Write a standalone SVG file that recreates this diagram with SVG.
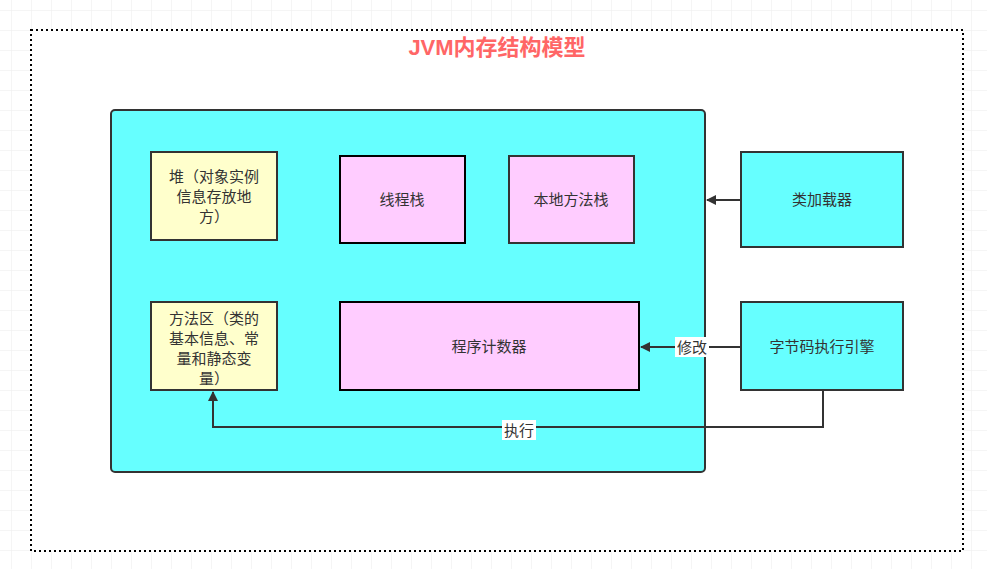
<svg xmlns="http://www.w3.org/2000/svg" width="987" height="569" viewBox="0 0 987 569">
<defs>
<pattern id="g" width="20" height="20" patternUnits="userSpaceOnUse" x="11" y="10"><path d="M20 0H0V20" fill="none" stroke="#ececec" stroke-width="1"/></pattern>
<marker id="a" markerWidth="10" markerHeight="10" refX="9" refY="5" orient="auto" markerUnits="userSpaceOnUse"><path d="M0 0L10 5L0 10Z" fill="#333"/></marker>
<style>
text{font-family:"Liberation Sans","Noto Sans CJK SC",sans-serif;font-size:15px;fill:#333;text-anchor:middle}
.n{stroke:#333;stroke-width:2}
.c{fill:none;stroke:#333;stroke-width:2}
</style>
</defs>
<rect width="987" height="569" fill="#fff"/>
<rect width="987" height="569" fill="url(#g)"/>
<rect x="31" y="30" width="932" height="521" fill="#fff" stroke="#000" stroke-width="2" stroke-dasharray="2,3"/>
<text x="497" y="55" style="font-size:22px;font-weight:bold;fill:#ff6666">JVM内存结构模型</text>
<g id="jvm"><rect class="n" x="111" y="110" width="594" height="362" rx="4" fill="#66ffff"/></g>
<g id="heap"><rect class="n" x="151" y="152" width="126" height="88" fill="#ffffcc"/><text x="214" y="182">堆（对象实例</text><text x="214" y="202">信息存放地</text><text x="214" y="222">方）</text></g>
<g id="method"><rect class="n" x="151" y="302" width="126" height="88" fill="#ffffcc"/><text x="214" y="324">方法区（类的</text><text x="214" y="344">基本信息、常</text><text x="214" y="364">量和静态变</text><text x="214" y="384">量）</text></g>
<g id="thread"><rect x="340" y="156" width="125" height="87" fill="#ffccff" stroke="#000" stroke-width="2"/><text x="402" y="205">线程栈</text></g>
<g id="native"><rect class="n" x="509" y="156" width="125" height="87" fill="#ffccff"/><text x="571" y="205">本地方法栈</text></g>
<g id="pc"><rect x="340" y="302" width="299" height="88" fill="#ffccff" stroke="#000" stroke-width="2"/><text x="489" y="352">程序计数器</text></g>
<g id="loader"><rect class="n" x="741" y="152" width="162" height="95" fill="#66ffff"/><text x="822" y="205">类加载器</text></g>
<g id="engine"><rect class="n" x="741" y="302" width="162" height="88" fill="#66ffff"/><text x="822" y="352">字节码执行引擎</text></g>
<g id="connectors">
<path class="c" d="M741 200H707" marker-end="url(#a)"/>
<path class="c" d="M741 347H641" marker-end="url(#a)"/>
<rect x="675" y="337" width="34" height="20" fill="#fff"/><text x="692" y="353">修改</text>
<path class="c" d="M823 390V427H213V392" marker-end="url(#a)"/>
<rect x="502" y="420" width="34" height="20" fill="#fff"/><text x="519" y="436">执行</text>
</g>
</svg>
